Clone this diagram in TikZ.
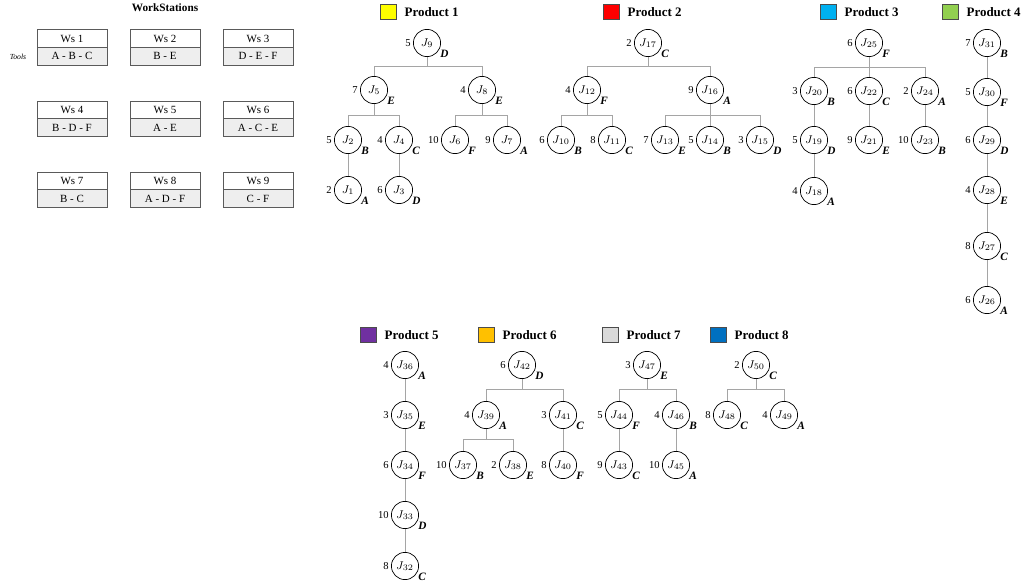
\documentclass[tikz,border=0pt]{standalone}
\usepackage{fontspec}
\setmainfont{Liberation Serif}
\usetikzlibrary{positioning}

\definecolor{linegray}{RGB}{165,165,165}
\definecolor{boxgray}{RGB}{90,90,90}
\definecolor{toolgray}{RGB}{238,238,238}
\definecolor{pone}{RGB}{255,255,0}
\definecolor{ptwo}{RGB}{255,0,0}
\definecolor{pthree}{RGB}{0,176,240}
\definecolor{pfour}{RGB}{146,208,80}
\definecolor{pfive}{RGB}{112,48,160}
\definecolor{psix}{RGB}{255,192,0}
\definecolor{pseven}{RGB}{217,217,217}
\definecolor{peight}{RGB}{0,112,192}

\tikzstyle{job} = [circle, draw=black, line width=0.5pt, minimum size=0.68cm, inner sep=0pt, font=\fontsize{8.5}{9}\selectfont]
\tikzstyle{wt} = [font=\fontsize{7.5}{9}\selectfont, inner sep=1.5pt]
\tikzstyle{tl} = [font=\fontsize{8}{9}\selectfont\bfseries\itshape, inner sep=0.5pt]
\tikzstyle{link} = [draw=linegray, line width=0.6pt]
\tikzstyle{wsname} = [rectangle, draw=boxgray, line width=0.5pt, minimum width=1.75cm, minimum height=0.44cm, inner sep=0pt, outer sep=0pt, font=\fontsize{7.8}{9}\selectfont]
\tikzstyle{wstools} = [wsname, fill=toolgray]
\tikzstyle{swatch} = [rectangle, draw=black!70, line width=0.5pt, minimum width=0.4cm, minimum height=0.375cm, inner sep=0pt]
\tikzstyle{prodlabel} = [font=\fontsize{9.2}{11}\selectfont\bfseries, inner sep=0pt]

\begin{document}
\begin{tikzpicture}[x=0.025cm, y=-0.025cm]
\useasboundingbox (0,0) rectangle (1024,583);

% WorkStations
\node (wstitle) [font=\fontsize{8}{9}\selectfont\bfseries] at (165,8) {WorkStations};
\node (toolslabel) [font=\fontsize{5.5}{6}\selectfont\itshape] at (18,57) {Tools};
\node (ws1) [wsname] at (72,38.5) {Ws 1};
\node (tools1) [wstools, below=0pt of ws1] {A - B - C};
\node (ws2) [wsname] at (165,38.5) {Ws 2};
\node (tools2) [wstools, below=0pt of ws2] {B - E};
\node (ws3) [wsname] at (258,38.5) {Ws 3};
\node (tools3) [wstools, below=0pt of ws3] {D - E - F};
\node (ws4) [wsname] at (72,110) {Ws 4};
\node (tools4) [wstools, below=0pt of ws4] {B - D - F};
\node (ws5) [wsname] at (165,110) {Ws 5};
\node (tools5) [wstools, below=0pt of ws5] {A - E};
\node (ws6) [wsname] at (258,110) {Ws 6};
\node (tools6) [wstools, below=0pt of ws6] {A - C - E};
\node (ws7) [wsname] at (72,181) {Ws 7};
\node (tools7) [wstools, below=0pt of ws7] {B - C};
\node (ws8) [wsname] at (165,181) {Ws 8};
\node (tools8) [wstools, below=0pt of ws8] {A - D - F};
\node (ws9) [wsname] at (258,181) {Ws 9};
\node (tools9) [wstools, below=0pt of ws9] {C - F};

% Product 1
\node (sq1) [swatch, fill=pone] at (388,12) {};
\node (lab1) [prodlabel, right=0.2cm of sq1] {Product 1};
\node (j9) [job, label={[wt]left:5}, label={[tl]-28:D}] at (427,43) {$J_{9}$};
\node (j5) [job, label={[wt]left:7}, label={[tl]-28:E}] at (374,90) {$J_{5}$};
\node (j8) [job, label={[wt]left:4}, label={[tl]-28:E}] at (482,90) {$J_{8}$};
\node (j2) [job, label={[wt]left:5}, label={[tl]-28:B}] at (348,140) {$J_{2}$};
\node (j4) [job, label={[wt]left:4}, label={[tl]-28:C}] at (399,140) {$J_{4}$};
\node (j6) [job, label={[wt]left:10}, label={[tl]-28:F}] at (455,140) {$J_{6}$};
\node (j7) [job, label={[wt]left:9}, label={[tl]-28:A}] at (507,140) {$J_{7}$};
\node (j1) [job, label={[wt]left:2}, label={[tl]-28:A}] at (348,190) {$J_{1}$};
\node (j3) [job, label={[wt]left:6}, label={[tl]-28:D}] at (399,190) {$J_{3}$};
\draw [link] (j9.south) -- ++(0,9) -| (j5.north);
\draw [link] (j9.south) -- ++(0,9) -| (j8.north);
\draw [link] (j5.south) -- ++(0,11) -| (j2.north);
\draw [link] (j5.south) -- ++(0,11) -| (j4.north);
\draw [link] (j8.south) -- ++(0,11) -| (j6.north);
\draw [link] (j8.south) -- ++(0,11) -| (j7.north);
\draw [link] (j2) -- (j1);
\draw [link] (j4) -- (j3);

% Product 2
\node (sq2) [swatch, fill=ptwo] at (611,12) {};
\node (lab2) [prodlabel, right=0.2cm of sq2] {Product 2};
\node (j17) [job, label={[wt]left:2}, label={[tl]-28:C}] at (648,43) {$J_{17}$};
\node (j12) [job, label={[wt]left:4}, label={[tl]-28:F}] at (587,90) {$J_{12}$};
\node (j16) [job, label={[wt]left:9}, label={[tl]-28:A}] at (710,90) {$J_{16}$};
\node (j10) [job, label={[wt]left:6}, label={[tl]-28:B}] at (561,140) {$J_{10}$};
\node (j11) [job, label={[wt]left:8}, label={[tl]-28:C}] at (612,140) {$J_{11}$};
\node (j13) [job, label={[wt]left:7}, label={[tl]-28:E}] at (665,140) {$J_{13}$};
\node (j14) [job, label={[wt]left:5}, label={[tl]-28:B}] at (710,140) {$J_{14}$};
\node (j15) [job, label={[wt]left:3}, label={[tl]-28:D}] at (760,140) {$J_{15}$};
\draw [link] (j17.south) -- ++(0,9) -| (j12.north);
\draw [link] (j17.south) -- ++(0,9) -| (j16.north);
\draw [link] (j12.south) -- ++(0,11) -| (j10.north);
\draw [link] (j12.south) -- ++(0,11) -| (j11.north);
\draw [link] (j16.south) -- ++(0,11) -| (j13.north);
\draw [link] (j16.south) -- ++(0,11) -| (j15.north);
\draw [link] (j16) -- (j14);

% Product 3
\node (sq3) [swatch, fill=pthree] at (828,12) {};
\node (lab3) [prodlabel, right=0.2cm of sq3] {Product 3};
\node (j25) [job, label={[wt]left:6}, label={[tl]-28:F}] at (869,43) {$J_{25}$};
\node (j20) [job, label={[wt]left:3}, label={[tl]-28:B}] at (814,91) {$J_{20}$};
\node (j22) [job, label={[wt]left:6}, label={[tl]-28:C}] at (869,91) {$J_{22}$};
\node (j24) [job, label={[wt]left:2}, label={[tl]-28:A}] at (925,91) {$J_{24}$};
\node (j19) [job, label={[wt]left:5}, label={[tl]-28:D}] at (814,140) {$J_{19}$};
\node (j21) [job, label={[wt]left:9}, label={[tl]-28:E}] at (869,140) {$J_{21}$};
\node (j23) [job, label={[wt]left:10}, label={[tl]-28:B}] at (925,140) {$J_{23}$};
\node (j18) [job, label={[wt]left:4}, label={[tl]-28:A}] at (814,191) {$J_{18}$};
\draw [link] (j25.south) -- ++(0,10) -| (j20.north);
\draw [link] (j25.south) -- ++(0,10) -| (j24.north);
\draw [link] (j25) -- (j22);
\draw [link] (j20) -- (j19);
\draw [link] (j22) -- (j21);
\draw [link] (j24) -- (j23);
\draw [link] (j19) -- (j18);

% Product 4
\node (sq4) [swatch, fill=pfour] at (950,12) {};
\node (lab4) [prodlabel, right=0.2cm of sq4] {Product 4};
\node (j31) [job, label={[wt]left:7}, label={[tl]-28:B}] at (987,43) {$J_{31}$};
\node (j30) [job, label={[wt]left:5}, label={[tl]-28:F}] at (987,92) {$J_{30}$};
\node (j29) [job, label={[wt]left:6}, label={[tl]-28:D}] at (987,140) {$J_{29}$};
\node (j28) [job, label={[wt]left:4}, label={[tl]-28:E}] at (987,190) {$J_{28}$};
\node (j27) [job, label={[wt]left:8}, label={[tl]-28:C}] at (987,246) {$J_{27}$};
\node (j26) [job, label={[wt]left:6}, label={[tl]-28:A}] at (987,300) {$J_{26}$};
\draw [link] (j31) -- (j30);
\draw [link] (j30) -- (j29);
\draw [link] (j29) -- (j28);
\draw [link] (j28) -- (j27);
\draw [link] (j27) -- (j26);

% Product 5
\node (sq5) [swatch, fill=pfive] at (368,335) {};
\node (lab5) [prodlabel, right=0.2cm of sq5] {Product 5};
\node (j36) [job, label={[wt]left:4}, label={[tl]-28:A}] at (405,365) {$J_{36}$};
\node (j35) [job, label={[wt]left:3}, label={[tl]-28:E}] at (405,415) {$J_{35}$};
\node (j34) [job, label={[wt]left:6}, label={[tl]-28:F}] at (405,465) {$J_{34}$};
\node (j33) [job, label={[wt]left:10}, label={[tl]-28:D}] at (405,515) {$J_{33}$};
\node (j32) [job, label={[wt]left:8}, label={[tl]-28:C}] at (405,566) {$J_{32}$};
\draw [link] (j36) -- (j35);
\draw [link] (j35) -- (j34);
\draw [link] (j34) -- (j33);
\draw [link] (j33) -- (j32);

% Product 6
\node (sq6) [swatch, fill=psix] at (486,335) {};
\node (lab6) [prodlabel, right=0.2cm of sq6] {Product 6};
\node (j42) [job, label={[wt]left:6}, label={[tl]-28:D}] at (522,365) {$J_{42}$};
\node (j39) [job, label={[wt]left:4}, label={[tl]-28:A}] at (486,415) {$J_{39}$};
\node (j41) [job, label={[wt]left:3}, label={[tl]-28:C}] at (563,415) {$J_{41}$};
\node (j37) [job, label={[wt]left:10}, label={[tl]-28:B}] at (463,465) {$J_{37}$};
\node (j38) [job, label={[wt]left:2}, label={[tl]-28:E}] at (513,465) {$J_{38}$};
\node (j40) [job, label={[wt]left:8}, label={[tl]-28:F}] at (563,465) {$J_{40}$};
\draw [link] (j42.south) -- ++(0,10) -| (j39.north);
\draw [link] (j42.south) -- ++(0,10) -| (j41.north);
\draw [link] (j39.south) -- ++(0,10) -| (j37.north);
\draw [link] (j39.south) -- ++(0,10) -| (j38.north);
\draw [link] (j41) -- (j40);

% Product 7
\node (sq7) [swatch, fill=pseven] at (610,335) {};
\node (lab7) [prodlabel, right=0.2cm of sq7] {Product 7};
\node (j47) [job, label={[wt]left:3}, label={[tl]-28:E}] at (647,365) {$J_{47}$};
\node (j44) [job, label={[wt]left:5}, label={[tl]-28:F}] at (619,415) {$J_{44}$};
\node (j46) [job, label={[wt]left:4}, label={[tl]-28:B}] at (676,415) {$J_{46}$};
\node (j43) [job, label={[wt]left:9}, label={[tl]-28:C}] at (619,465) {$J_{43}$};
\node (j45) [job, label={[wt]left:10}, label={[tl]-28:A}] at (676,465) {$J_{45}$};
\draw [link] (j47.south) -- ++(0,10) -| (j44.north);
\draw [link] (j47.south) -- ++(0,10) -| (j46.north);
\draw [link] (j44) -- (j43);
\draw [link] (j46) -- (j45);

% Product 8
\node (sq8) [swatch, fill=peight] at (718,335) {};
\node (lab8) [prodlabel, right=0.2cm of sq8] {Product 8};
\node (j50) [job, label={[wt]left:2}, label={[tl]-28:C}] at (756,365) {$J_{50}$};
\node (j48) [job, label={[wt]left:8}, label={[tl]-28:C}] at (727,415) {$J_{48}$};
\node (j49) [job, label={[wt]left:4}, label={[tl]-28:A}] at (784,415) {$J_{49}$};
\draw [link] (j50.south) -- ++(0,10) -| (j48.north);
\draw [link] (j50.south) -- ++(0,10) -| (j49.north);

\end{tikzpicture}
\end{document}
